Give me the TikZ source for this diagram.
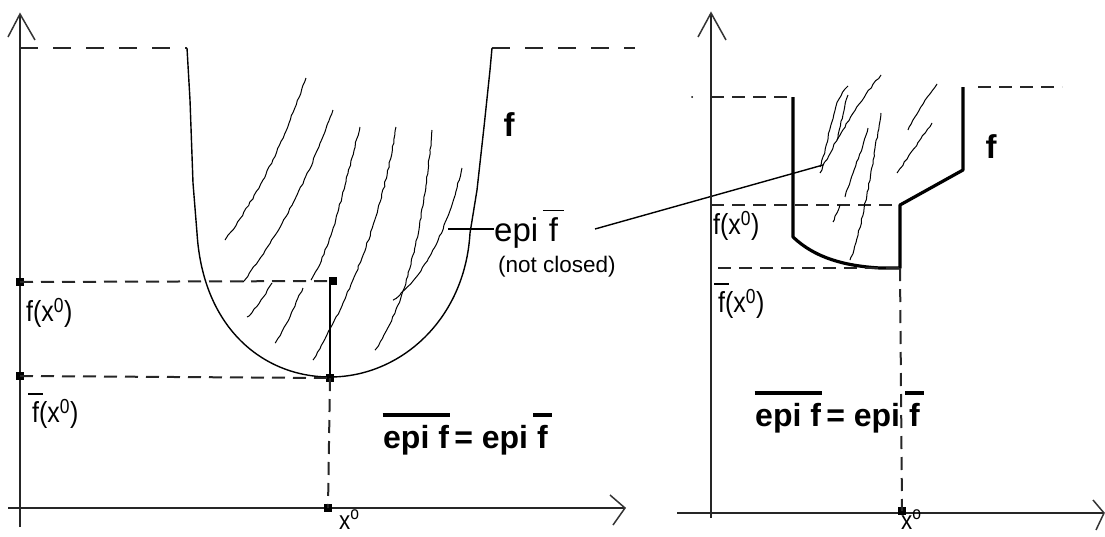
\documentclass[tikz,border=0pt]{standalone}
\usepackage{fontspec}
\setmainfont{Liberation Sans}
\newfontfamily\lblfont[FakeStretch=0.86]{Liberation Sans}
\usetikzlibrary{decorations.pathmorphing}
% #1 text, #2 overhang each side, #3 raise, #4 thickness
\newcommand{\barover}[4]{\leavevmode\setbox0\hbox{#1}\rlap{\kern-#2\raisebox{#3}{\rule{\dimexpr\wd0+#2+#2\relax}{#4}}}\box0}
\begin{document}
\begin{tikzpicture}[x=1pt,y=-1pt,
  axisline/.style={line width=2.2pt, draw=black!85},
  tipline/.style={line width=1.5pt, draw=black!80},
  dsh/.style={dash pattern=on 13pt off 8pt, line width=2pt, draw=black!85},
  dshlong/.style={dash pattern=on 18pt off 15pt, line width=2pt, draw=black!85},
  fcurve/.style={line width=1.4pt},
  fthick/.style={line width=3.2pt},
  hatch/.style={line width=1pt, decorate, decoration={random steps, segment length=4pt, amplitude=0.6pt}},
  marker/.style={rectangle, fill=black, draw=none, minimum size=8pt, inner sep=0pt},
  lbl/.style={font=\lblfont\fontsize{29}{31}\selectfont, inner sep=0pt},
  xlbl/.style={font=\lblfont\fontsize{26}{28}\selectfont, inner sep=0pt},
  small/.style={font=\fontsize{22.5}{24}\selectfont, inner sep=0pt},
  boldlbl/.style={font=\fontsize{32}{34}\selectfont\bfseries, inner sep=0pt}
]
\useasboundingbox (0,0) rectangle (1105,536);
\pgfmathsetseed{7}

% ================= LEFT PANEL =================
\coordinate (LyTop) at (20,14);
\coordinate (LyBot) at (20,527);
\coordinate (LxL) at (8,508);
\coordinate (LxR) at (625,508);
\draw[axisline] (LyBot) -- (LyTop);
\draw[axisline] (LxL) -- (LxR);
\draw[tipline] (8,37) -- (LyTop) -- (35,40);
\draw[tipline] (610,495) -- (LxR) -- (613,525);

% f (left)
\coordinate (LfA) at (187,48);
\coordinate (LfB) at (492,48);
\coordinate (LyA) at (20,48);
\coordinate (LtopR) at (635,48);
\coordinate (Lmin) at (330,377);
\draw[dshlong] (LyA) -- (LfA);
\draw[dshlong] (LfB) -- (LtopR);
\draw[fcurve, line join=round] (LfA) -- (190,100) -- (193,183) -- (197,233)
  .. controls (203,330) and (265,377) .. (Lmin)
  .. controls (400,377) and (465,320) .. (470,233)
  -- (477,190) -- (484,127) -- (490,70) -- (LfB);

% markers
\node[marker] (m1) at (20,282) {};
\node[marker] (m2) at (20,376) {};
\node[marker] (m3) at (333,281) {};
\node[marker] (m4) at (330,378) {};
\node[marker] (m5) at (328,508) {};

\draw[dsh] (m1.center) -- (m3.center);
\draw[dsh] (m2.center) -- (m4.center);
\draw[line width=2pt] (330,282) -- (m4.center);
\draw[dsh] (m4.center) -- (m5.center);

% hatching (left)
\draw[hatch] (306,78) .. controls (290,120) and (270,180) .. (225,240);
\draw[hatch] (333,110) .. controls (315,160) and (290,220) .. (243,282);
\draw[hatch] (360,127) .. controls (345,180) and (335,240) .. (311,280);
\draw[hatch] (396,127) .. controls (385,200) and (360,280) .. (313,360);
\draw[hatch] (432,130) .. controls (425,210) and (410,300) .. (375,350);
\draw[hatch] (462,168) .. controls (445,240) and (420,280) .. (393,300);
\draw[hatch] (303,288) .. controls (292,310) and (285,330) .. (275,343);
\draw[hatch] (272,283) .. controls (262,300) and (255,310) .. (247,317);

% labels (left)
\node[lbl, anchor=north west] (lf) at (26,298) {f(x\textsuperscript{0})};
\node[lbl, anchor=north west] (lfb) at (32,393) {\barover{f}{0.14em}{0.95em}{1.6pt}(x\textsuperscript{0})};
\node[xlbl, anchor=base west] (lx) at (339,529) {x\textsuperscript{o}};
\node[font=\fontsize{33}{35}\selectfont\bfseries, inner sep=0pt] (Lflab) at (509,125) {f};

\coordinate (tickL) at (448,229);
\node[font=\fontsize{33}{35}\selectfont, anchor=west, inner sep=0pt] (epilab) at (494,229) {epi\hspace{0.32em}\barover{f}{0.18em}{0.92em}{1.8pt}};
\draw[line width=1.4pt] (tickL) -- (epilab.west);
\node[small, anchor=north west] (nc) at (498,256) {(not closed)};
\node[boldlbl, anchor=north west] (Leq) at (383,413) {\barover{epi f}{0.02em}{1.0em}{3.5pt}\,= epi \barover{f}{0.12em}{1.0em}{3.5pt}};

% leader line
\coordinate (leadA) at (595,229);
\coordinate (leadB) at (823,165);
\draw[line width=1.4pt] (leadA) -- (leadB);

% ================= RIGHT PANEL =================
\coordinate (RyTop) at (711,13);
\coordinate (RyBot) at (711,518);
\coordinate (RxL) at (677,513);
\coordinate (RxR) at (1104,513);
\draw[axisline] (RyBot) -- (RyTop);
\draw[axisline] (RxL) -- (RxR);
\draw[tipline] (698,37) -- (RyTop) -- (726,40);
\draw[tipline] (1093,500) -- (RxR) -- (1096,530);

\coordinate (Ra) at (793,97);
\coordinate (Rb) at (793,237);
\coordinate (Rc) at (900,268);
\coordinate (Rd) at (900,205);
\coordinate (Re) at (963,170);
\coordinate (Rf) at (963,87);
\draw[fthick, line join=round] (Ra) -- (Rb) .. controls (815,258) and (845,266) .. (880,268) -- (Rc) -- (Rd) -- (Re) -- (Rf);

\draw[dsh] (711,97) -- (Ra);
\fill (692,97) circle (1pt);
\draw[dsh] (978,87) -- (1062,87);
\draw[dsh] (711,205) -- (Rd);
\draw[dsh] (718,268) -- (Rc);
\node[marker] (m6) at (902,511) {};
\draw[dsh] (Rc) -- (m6.center);

% hatching (right)
\draw[hatch] (848,86) .. controls (832,100) and (830,140) .. (820,167);
\draw[hatch] (848,95) .. controls (842,115) and (840,130) .. (837,140);
\draw[hatch] (881,75) .. controls (860,100) and (835,140) .. (820,173);
\draw[hatch] (868,128) .. controls (862,150) and (852,175) .. (845,197);
\draw[hatch] (881,113) .. controls (872,170) and (862,230) .. (850,260);
\draw[hatch] (937,84) .. controls (925,100) and (915,115) .. (908,130);
\draw[hatch] (932,123) .. controls (920,140) and (908,158) .. (897,173);
\draw[hatch] (840,205) -- (833,222);

% labels (right)
\node[lbl, anchor=north west] (rf) at (713,211) {f(x\textsuperscript{0})};
\node[lbl, anchor=north west] (rfb) at (718,283) {\barover{f}{0.14em}{0.95em}{1.6pt}(x\textsuperscript{0})};
\node[xlbl, anchor=base west] (rx) at (901,529) {x\textsuperscript{o}};
\node[font=\fontsize{33}{35}\selectfont\bfseries, inner sep=0pt] (Rflab) at (991,147) {f};
\node[boldlbl, anchor=north west] (Req) at (755,391) {\barover{epi f}{0.02em}{1.0em}{3.5pt}\,= epi \barover{f}{0.12em}{1.0em}{3.5pt}};
\end{tikzpicture}
\end{document}
